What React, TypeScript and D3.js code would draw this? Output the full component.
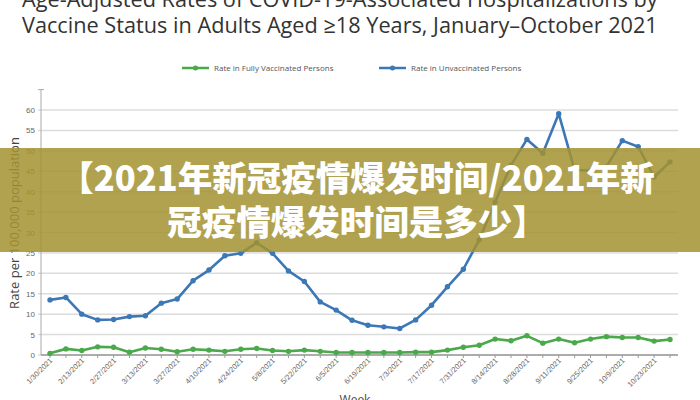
import React from "react";
import * as d3 from "d3";

const weekLabels = [
  "1/30/2021", "", "2/13/2021", "", "2/27/2021", "", "3/13/2021", "", "3/27/2021", "",
  "4/10/2021", "", "4/24/2021", "", "5/8/2021", "", "5/22/2021", "", "6/5/2021", "",
  "6/19/2021", "", "7/3/2021", "", "7/17/2021", "", "7/31/2021", "", "8/14/2021", "",
  "8/28/2021", "", "9/11/2021", "", "9/25/2021", "", "10/9/2021", "", "10/23/2021", "",
];

const unvaccinated = [
  13.5, 14.1, 10.0, 8.6, 8.7, 9.4, 9.6, 12.7, 13.7, 18.2,
  20.8, 24.3, 24.9, 27.5, 24.9, 20.6, 18.0, 13.0, 11.0, 8.5,
  7.3, 6.9, 6.5, 8.6, 12.2, 16.7, 21.0, 28.2, 37.5, 46.5,
  52.8, 49.4, 59.1, 45.3, 45.2, 46.1, 52.5, 51.0, 43.6, 47.3,
];

const vaccinated = [
  0.4, 1.5, 1.1, 2.0, 1.9, 0.7, 1.7, 1.4, 0.8, 1.4,
  1.2, 0.9, 1.4, 1.6, 1.1, 0.9, 1.2, 0.9, 0.6, 0.6,
  0.6, 0.6, 0.6, 0.7, 0.7, 1.2, 1.9, 2.4, 3.9, 3.5,
  4.7, 2.9, 3.9, 3.0, 3.9, 4.5, 4.3, 4.3, 3.4, 3.8,
];

const yTicks = [0, 5, 10, 15, 20, 25, 30, 35, 40, 45, 50, 55, 60];

const titleLines = [
  "Age-Adjusted Rates of COVID-19-Associated Hospitalizations by",
  "Vaccine Status in Adults Aged ≥18 Years, January–October 2021",
];
const legendLabels = ["Rate in Fully Vaccinated Persons", "Rate in Unvaccinated Persons"];
const bannerLines = ["【2021年新冠疫情爆发时间/2021年新", "冠疫情爆发时间是多少】"];

const GREEN = "#4aa94a";
const BLUE = "#3b78b5";

export default function App() {
  const W = 700, H = 400;
  const x = d3.scaleLinear().domain([0, weekLabels.length - 1]).range([50, 670]);
  const y = d3.scaleLinear().domain([0, 65]).range([355, 89.6]);
  const line = d3.line<number>().x((_, i) => x(i)).y((d) => y(d));

  const series = [
    { data: vaccinated, color: GREEN },
    { data: unvaccinated, color: BLUE },
  ];

  return (
    <svg width={W} height={H} style={{ position: "absolute", left: 0, top: 0, background: "#fff" }}>
      <rect x={0} y={0} width={W} height={H} fill="#fff" />
      {/* title */}
      {titleLines.map((t, i) => (
        <text key={i} x={22} y={7 + i * 26} fontFamily="'Open Sans', sans-serif" fontSize={21.7} fill="#333">
          {t}
        </text>
      ))}
      {/* legend */}
      {legendLabels.map((t, i) => {
        const lx = i === 0 ? 182 : 379;
        const c = i === 0 ? GREEN : BLUE;
        return (
          <g key={i}>
            <line x1={lx} x2={lx + 27} y1={68} y2={68} stroke={c} strokeWidth={2.5} />
            <circle cx={lx + 13.5} cy={68} r={2.5} fill={c} />
            <text x={lx + 32} y={71} fontFamily="'Open Sans', sans-serif" fontSize={8} fill="#555">
              {t}
            </text>
          </g>
        );
      })}
      {/* grid */}
      {yTicks.map((t) => (
        <g key={t}>
          <line x1={38} x2={678} y1={y(t)} y2={y(t)} stroke="#dcdcdc" strokeWidth={1.5} />
          <text x={35} y={y(t) + 3} textAnchor="end" fontFamily="Arial, 'Liberation Sans', sans-serif" fontSize={8} fill="#666">
            {t}
          </text>
        </g>
      ))}
      {/* axes */}
      <line x1={41} x2={41} y1={y(65)} y2={y(0)} stroke="#aaa" strokeWidth={1} />
      <line x1={38} x2={44} y1={y(65)} y2={y(65)} stroke="#aaa" strokeWidth={1} />
      <line x1={41} x2={678} y1={y(0)} y2={y(0)} stroke="#999" strokeWidth={1.5} />
      {weekLabels.map((t, i) => (
        <g key={i}>
          <line x1={x(i)} x2={x(i)} y1={y(0)} y2={y(0) + 3} stroke="#999" strokeWidth={1} />
          {t && (
            <text
              transform={`translate(${x(i) + 3},${y(0) + 6}) rotate(-45)`}
              textAnchor="end"
              fontFamily="Arial, 'Liberation Sans', sans-serif"
              fontSize={7.5}
              fill="#666"
            >
              {t}
            </text>
          )}
        </g>
      ))}
      <text
        transform={`translate(19,${223}) rotate(-90)`}
        textAnchor="middle"
        fontFamily="'Open Sans', sans-serif"
        fontSize={13}
        fill="#444"
      >
        Rate per 100,000 population
      </text>
      <text x={355} y={404} textAnchor="middle" fontFamily="'Open Sans', sans-serif" fontSize={12} fill="#444">
        Week
      </text>
      {/* lines */}
      {series.map((s, k) => (
        <g key={k}>
          <path d={line(s.data) || ""} fill="none" stroke={s.color} strokeWidth={2.6} strokeLinejoin="round" />
          {s.data.map((d, i) => (
            <circle key={i} cx={x(i)} cy={y(d)} r={2.7} fill={s.color} />
          ))}
        </g>
      ))}
      {/* banner */}
      <rect x={0} y={148} width={W} height={104} fill="rgb(163,146,48)" opacity={0.85} />
      {bannerLines.map((t, i) => (
        <text
          key={i}
          x={357}
          y={191 + i * 44}
          textAnchor="middle"
          fontFamily="'Noto Sans CJK SC', sans-serif"
          fontWeight={900}
          fontSize={34.5}
          fill="#fff"
        >
          {t}
        </text>
      ))}
    </svg>
  );
}
